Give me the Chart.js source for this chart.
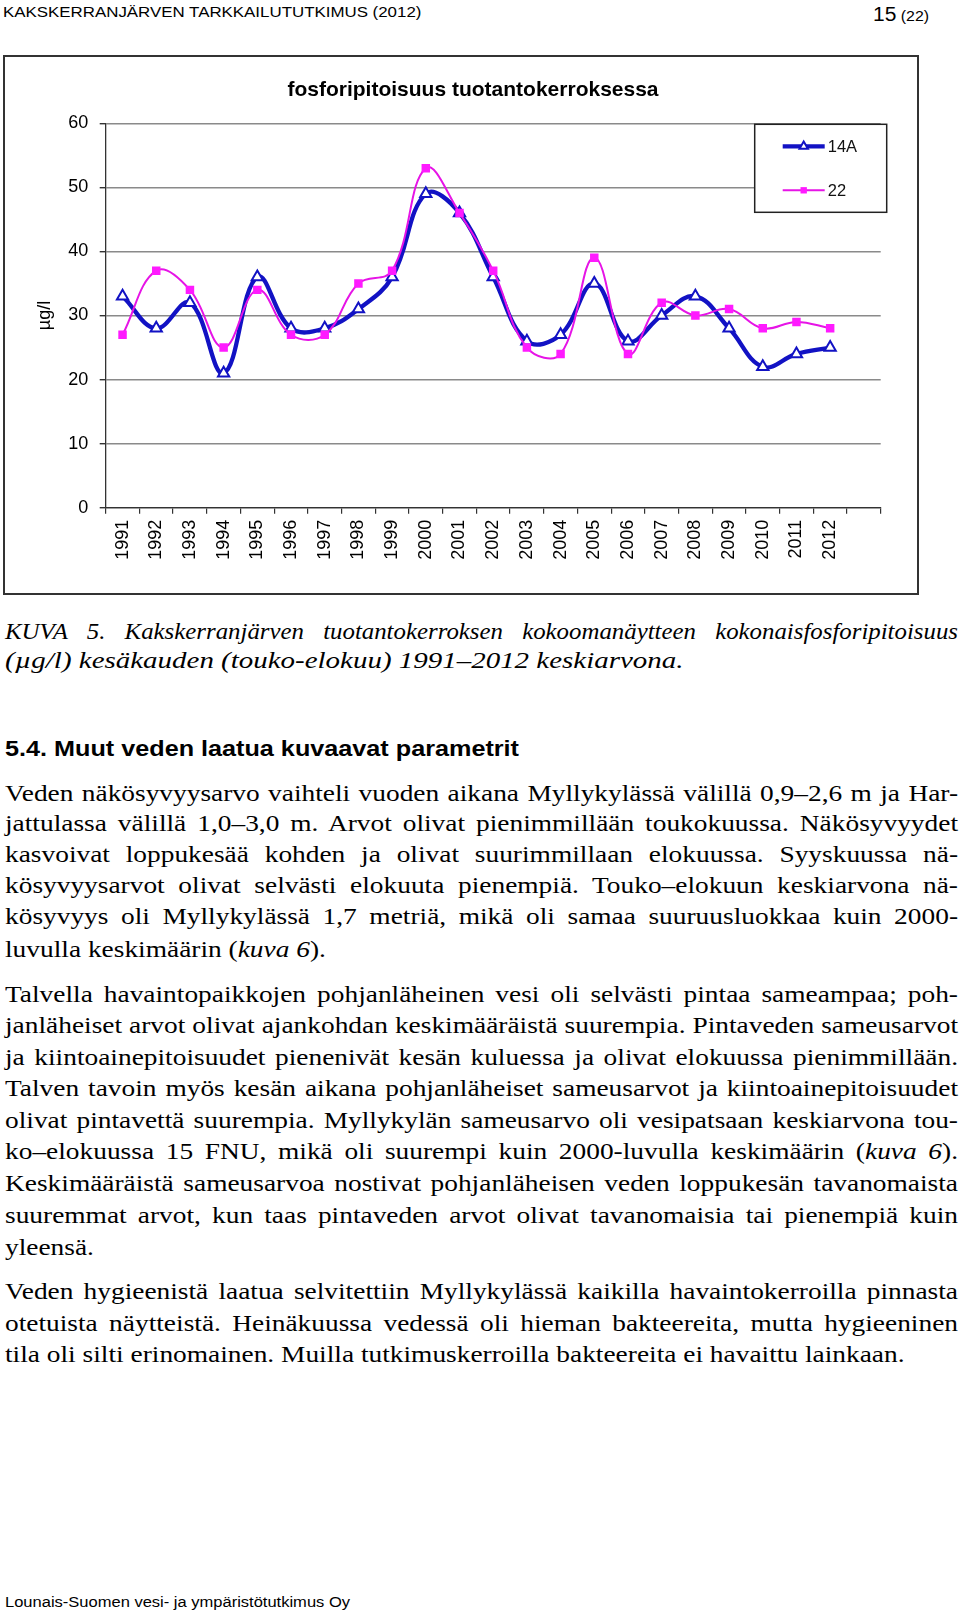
<!DOCTYPE html>
<html lang="fi">
<head>
<meta charset="utf-8">
<script src="https://cdn.jsdelivr.net/npm/chart.js@4.4.1/dist/chart.umd.min.js"></script>
<style>
  html, body { margin: 0; padding: 0; background: #fff; }
  body { width: 960px; height: 1612px; position: relative; overflow: hidden; color: #000; }
  .ln { position: absolute; left: 5px; white-space: nowrap; line-height: 1; transform-origin: 0 0; }
  .sans { font-family: "Liberation Sans", Arial, sans-serif; }
  .serif { font-family: "Liberation Serif", "Times New Roman", serif; font-size: 23.8px; }
  .cap { font-style: italic; }
  .head { font-weight: bold; font-size: 21.5px; }
  #frame { position: absolute; left: 3px; top: 55px; width: 912px; height: 536px; border: 2px solid #333; }
  #frame canvas { display: block; }
</style>
</head>
<body>

<div class="ln sans" data-base="16.7" data-right="421.7" style="left:3.3px;font-size:15.5px">KAKSKERRANJÄRVEN TARKKAILUTUTKIMUS (2012)</div>
<div class="ln sans" data-base="17.3" data-right="929" style="left:873px;font-size:15.5px"><span style="font-size:20.5px">15</span> (22)</div>

<div id="frame"><canvas id="chart" width="912" height="536"></canvas></div>

<div class="ln serif cap" data-base="639.5" data-gap="13">KUVA 5. Kakskerranjärven tuotantokerroksen kokoomanäytteen kokonaisfosforipitoisuus</div>
<div class="ln serif cap" data-base="668.5" data-right="683.5">(µg/l) kesäkauden (touko-elokuu) 1991–2012 keskiarvona.</div>

<div class="ln sans head" data-base="757" data-right="519">5.4. Muut veden laatua kuvaavat parametrit</div>

<div class="ln serif" data-base="801.5" data-group="body" data-j="1">Veden näkösyvyysarvo vaihteli vuoden aikana Myllykylässä välillä 0,9–2,6 m ja Har-</div>
<div class="ln serif" data-base="832.3" data-group="body" data-j="1">jattulassa välillä 1,0–3,0 m. Arvot olivat pienimmillään toukokuussa. Näkösyvyydet</div>
<div class="ln serif" data-base="863.1" data-group="body" data-j="1">kasvoivat loppukesää kohden ja olivat suurimmillaan elokuussa. Syyskuussa nä-</div>
<div class="ln serif" data-base="893.9" data-group="body" data-j="1">kösyvyysarvot olivat selvästi elokuuta pienempiä. Touko–elokuun keskiarvona nä-</div>
<div class="ln serif" data-base="924.7" data-group="body" data-j="1">kösyvyys oli Myllykylässä 1,7 metriä, mikä oli samaa suuruusluokkaa kuin 2000-</div>
<div class="ln serif" data-base="957.5" data-group="body">luvulla keskimäärin (<i>kuva 6</i>).</div>

<div class="ln serif" data-base="1003" data-group="body" data-j="1">Talvella havaintopaikkojen pohjanläheinen vesi oli selvästi pintaa sameampaa; poh-</div>
<div class="ln serif" data-base="1034" data-group="body" data-j="1">janläheiset arvot olivat ajankohdan keskimääräistä suurempia. Pintaveden sameusarvot</div>
<div class="ln serif" data-base="1065.6" data-group="body" data-j="1">ja kiintoainepitoisuudet pienenivät kesän kuluessa ja olivat elokuussa pienimmillään.</div>
<div class="ln serif" data-base="1097" data-group="body" data-j="1">Talven tavoin myös kesän aikana pohjanläheiset sameusarvot ja kiintoainepitoisuudet</div>
<div class="ln serif" data-base="1129" data-group="body" data-j="1">olivat pintavettä suurempia. Myllykylän sameusarvo oli vesipatsaan keskiarvona tou-</div>
<div class="ln serif" data-base="1160" data-group="body" data-j="1">ko–elokuussa 15 FNU, mikä oli suurempi kuin 2000-luvulla keskimäärin (<i>kuva 6</i>).</div>
<div class="ln serif" data-base="1192" data-group="body" data-j="1">Keskimääräistä sameusarvoa nostivat pohjanläheisen veden loppukesän tavanomaista</div>
<div class="ln serif" data-base="1224" data-group="body" data-j="1">suuremmat arvot, kun taas pintaveden arvot olivat tavanomaisia tai pienempiä kuin</div>
<div class="ln serif" data-base="1256" data-group="body">yleensä.</div>

<div class="ln serif" data-base="1300" data-group="body" data-j="1">Veden hygieenistä laatua selvitettiin Myllykylässä kaikilla havaintokerroilla pinnasta</div>
<div class="ln serif" data-base="1331.5" data-group="body" data-j="1">otetuista näytteistä. Heinäkuussa vedessä oli hieman bakteereita, mutta hygieeninen</div>
<div class="ln serif" data-base="1362.8" data-group="body" data-right="904.5">tila oli silti erinomainen. Muilla tutkimuskerroilla bakteereita ei havaittu lainkaan.</div>

<div class="ln sans" data-base="1607" data-right="350" style="font-size:15.5px">Lounais-Suomen vesi- ja ympäristötutkimus Oy</div>

<script>
// chart data
const years = ['1991', '1992', '1993', '1994', '1995', '1996', '1997', '1998', '1999', '2000', '2001',
               '2002', '2003', '2004', '2005', '2006', '2007', '2008', '2009', '2010', '2011', '2012', ''];
const site14A = [33, 28, 32, 21, 36, 28, 28, 31, 36, 49, 46, 36, 26, 27, 35, 26, 30, 33, 28, 22, 24, 25];
const site22 = [27, 37, 34, 25, 34, 27, 27, 35, 37, 53, 46, 37, 25, 24, 39, 24, 32, 30, 31, 28, 29, 28];
const yMin = 0, yMax = 60, yStep = 10;
const chartTitle = 'fosforipitoisuus tuotantokerroksessa';
const yTitle = 'µg/l';

const BLUE = '#1212c4';
const PINK = '#e614e6';
const SANS = '"Liberation Sans", Arial, sans-serif';

// text lines: stretch each one the way the scanned page is stretched
const LEFT = 5, RIGHT = 958;
const asc = { serif: 0.8375, sans: 0.8465 };
const groupScale = {};
const lines = [...document.querySelectorAll('.ln')];
lines.forEach(el => {
    if (!el.dataset.right) return;
    const left = parseFloat(el.style.left || LEFT);
    const s = (parseFloat(el.dataset.right) - left) / el.getBoundingClientRect().width;
    el.dataset.s = s;
    if (el.dataset.group) groupScale[el.dataset.group] = s;
});
lines.forEach(el => {
    const fs = parseFloat(getComputedStyle(el).fontSize);
    const r = el.classList.contains('serif') ? asc.serif : asc.sans;
    el.style.top = (parseFloat(el.dataset.base) - r * fs) + 'px';
    const nat = el.getBoundingClientRect().width;
    const gaps = (el.textContent.match(/ /g) || []).length;
    let s = el.dataset.s ? parseFloat(el.dataset.s) : groupScale[el.dataset.group];
    if (el.dataset.gap) {
        // own scale, with a fixed extra gap between words
        const g = parseFloat(el.dataset.gap);
        s = (RIGHT - LEFT - gaps * g) / nat;
        el.style.wordSpacing = (g / s) + 'px';
    } else if (el.dataset.j) {
        el.style.wordSpacing = ((RIGHT - LEFT) / s - nat) / gaps + 'px';
    }
    el.style.transform = 'scaleX(' + s + ')';
});

// title and boxed legend drawn inside the frame
const decor = {
    id: 'decor',
    afterDraw(chart) {
        const { ctx, chartArea } = chart;
        ctx.save();
        ctx.font = 'bold 21px ' + SANS;
        ctx.fillStyle = '#000';
        ctx.textAlign = 'center';
        ctx.textBaseline = 'middle';
        ctx.fillText(chartTitle, 468, 33);

        const bx = chartArea.right - 126, by = chartArea.top + 1, bw = 132, bh = 88;
        ctx.fillStyle = '#fff';
        ctx.fillRect(bx, by, bw, bh);
        ctx.lineWidth = 1.5;
        ctx.strokeStyle = '#222';
        ctx.strokeRect(bx, by, bw, bh);

        ctx.textAlign = 'left';
        ctx.font = '16.5px ' + SANS;
        chart.data.datasets.forEach((ds, i) => {
            const y = by + 22 + i * 44;
            ctx.strokeStyle = ds.borderColor;
            ctx.lineWidth = ds.borderWidth;
            ctx.beginPath();
            ctx.moveTo(bx + 28, y);
            ctx.lineTo(bx + 70, y);
            ctx.stroke();
            ctx.fillStyle = ds.pointBackgroundColor;
            ctx.strokeStyle = ds.pointBorderColor;
            ctx.lineWidth = ds.pointBorderWidth;
            Chart.helpers.drawPoint(ctx, {
                pointStyle: ds.pointStyle, radius: ds.pointRadius * 0.75,
                borderWidth: ds.pointBorderWidth, rotation: 0
            }, bx + 49, y);
            ctx.fillStyle = '#111';
            ctx.fillText(ds.label, bx + 73, y + 1);
        });
        ctx.restore();
    }
};

new Chart(document.getElementById('chart'), {
    type: 'line',
    data: {
        labels: years,
        datasets: [{
            label: '14A',
            data: site14A,
            borderColor: BLUE,
            borderWidth: 4.3,
            tension: 0.4,
            pointStyle: 'triangle',
            pointRadius: 6.5,
            pointBackgroundColor: '#fff',
            pointBorderColor: BLUE,
            pointBorderWidth: 2,
            order: 1
        }, {
            label: '22',
            data: site22,
            borderColor: PINK,
            borderWidth: 2,
            tension: 0.4,
            pointStyle: 'rect',
            pointRadius: 6,
            pointBackgroundColor: '#ff1aff',
            pointBorderColor: '#ff1aff',
            pointBorderWidth: 0,
            order: 0
        }]
    },
    options: {
        responsive: false,
        animation: false,
        events: [],
        layout: { padding: { top: 66.3, right: 36.3, bottom: 0, left: 0 } },
        plugins: {
            legend: { display: false },
            title: { display: false },
            tooltip: { enabled: false }
        },
        scales: {
            x: {
                offset: true,
                grid: { offset: true, drawOnChartArea: false, tickLength: 6, tickColor: '#333', lineWidth: 1.2 },
                border: { color: '#333', width: 1.3 },
                ticks: {
                    autoSkip: false, minRotation: 90, maxRotation: 90, padding: 6,
                    color: '#000', font: { family: SANS, size: 18 }
                },
                afterFit: axis => { axis.height = 85.3; }
            },
            y: {
                min: yMin,
                max: yMax,
                ticks: { stepSize: yStep, padding: 11.4, color: '#000', font: { family: SANS, size: 18 } },
                grid: { color: '#8a8a8a', lineWidth: 1.4, tickLength: 6, tickColor: '#333' },
                border: { color: '#333', width: 1.3 },
                title: {
                    display: true, text: yTitle, color: '#000',
                    font: { family: SANS, size: 18 }, padding: { top: 29, bottom: 0 }
                },
                afterFit: axis => { axis.width = 100.7; }
            }
        }
    },
    plugins: [decor]
});
</script>
</body>
</html>
